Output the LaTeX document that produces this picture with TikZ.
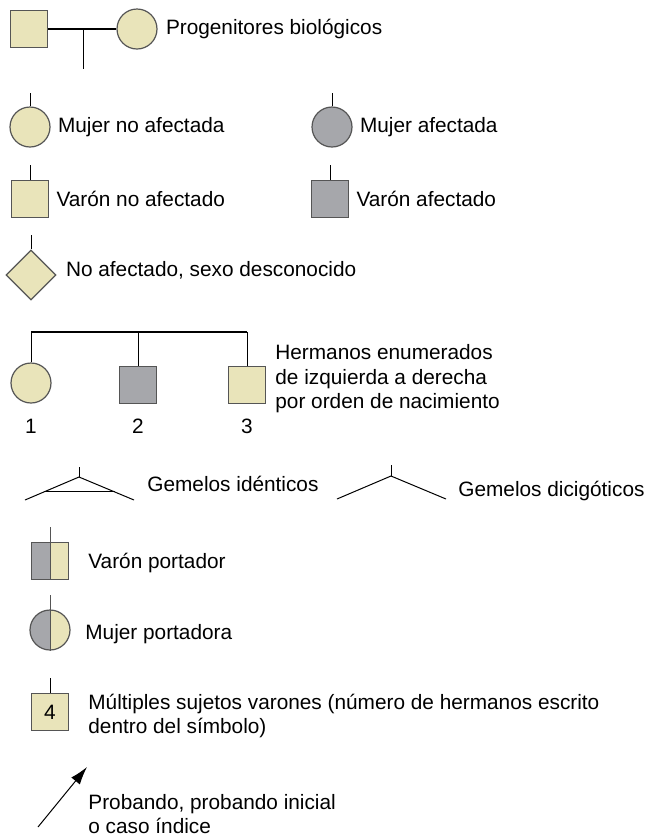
\documentclass[tikz,border=0pt]{standalone}
\usepackage{fontspec}
\setmainfont{Liberation Sans}
\usetikzlibrary{positioning, shapes.geometric, arrows.meta, calc}
\definecolor{beige}{RGB}{233,228,186}
\definecolor{afgris}{RGB}{166,167,171}
\definecolor{borde}{RGB}{85,85,85}

\begin{document}
\begin{tikzpicture}[
	x=0.5pt, y=-0.5pt,
	node distance=3.5pt,
	% --- ESTILOS ---
	varon/.style={
		rectangle, draw=borde, fill=beige, line width=0.6pt,
		minimum size=18.5pt, inner sep=0pt
	},
	mujer/.style={
		circle, draw=borde, fill=beige, line width=0.6pt,
		minimum size=20pt, inner sep=0pt
	},
	desconocido/.style={
		diamond, draw=borde, fill=beige, line width=0.6pt,
		minimum size=25pt, inner sep=0pt
	},
	afectado/.style={fill=afgris},
	portador/.style={
		path picture={\fill[afgris] (path picture bounding box.south west) rectangle (path picture bounding box.north);}
	},
	linea/.style={draw, line width=0.5pt},
	pareja/.style={draw, line width=1pt},
	texto/.style={font=\fontsize{10.4}{12.25}\selectfont, inner sep=0pt, align=left}
	]
	\useasboundingbox (0,0) rectangle (646,836);
	
	% ==========================================
	% 1. Progenitores
	% ==========================================
	\node [varon] (padre) at (29,29) {};
	\node [mujer] (madre) at (137,29) {};
	\draw [pareja] (padre) -- (madre);
	\coordinate (union) at (83,29);
	\coordinate (union_bot) at (83,69);
	\draw [linea] (union) -- (union_bot);
	\node [texto, right=4pt of madre] (t_prog) {Progenitores biológicos};
	
	% ==========================================
	% 2. Afectados / no afectados
	% ==========================================
	\node [mujer] (mna) at (30,127) {};
	\coordinate (mna_top) at (30,93);
	\draw [linea] (mna_top) -- (mna.north);
	\node [texto, right=of mna] (t_mna) {Mujer no afectada};
	
	\node [mujer, afectado] (ma) at (332,127) {};
	\coordinate (ma_top) at (332,93);
	\draw [linea] (ma_top) -- (ma.north);
	\node [texto, right=of ma] (t_ma) {Mujer afectada};
	
	\node [varon] (vna) at (30,199) {};
	\coordinate (vna_top) at (30,165);
	\draw [linea] (vna_top) -- (vna.north);
	\node [texto, right=of vna] (t_vna) {Varón no afectado};
	
	\node [varon, afectado] (va) at (330,199) {};
	\coordinate (va_top) at (330,165);
	\draw [linea] (va_top) -- (va.north);
	\node [texto, right=of va] (t_va) {Varón afectado};
	
	\node [desconocido] (sd) at (31,275) {};
	\coordinate (sd_top) at (31,235);
	\draw [linea] (sd_top) -- (sd.north);
	\node [texto, right=4.5pt of sd, yshift=2.5pt] (t_sd) {No afectado, sexo desconocido};
	
	% ==========================================
	% 3. Hermanos
	% ==========================================
	\coordinate (sib_l) at (31,332);
	\coordinate (sib_r) at (247,332);
	\draw [pareja] (sib_l) -- (sib_r);
	\node [mujer] (h1) at (31,383) {};
	\node [varon, afectado] (h2) at (138,385) {};
	\node [varon] (h3) at (247,385) {};
	\foreach \h in {h1,h2,h3}
		\draw [linea] (\h.north |- sib_l) -- (\h.north);
	\node [texto] (n1) at (31,426) {1};
	\node [texto] (n2) at (138,426) {2};
	\node [texto] (n3) at (247,426) {3};
	\node [texto, anchor=west] (t_herm) at (275,379) {Hermanos enumerados\\de izquierda a derecha\\por orden de nacimiento};
	
	% ==========================================
	% 4. Gemelos
	% ==========================================
	\coordinate (gi_top) at (79,467);
	\coordinate (gi_apex) at (79,477);
	\coordinate (gi_l) at (25,500);
	\coordinate (gi_r) at (134,500);
	\draw [linea] (gi_top) -- (gi_apex);
	\draw [linea] (gi_l) -- (gi_apex) -- (gi_r);
	\draw [linea] ($(gi_apex)!0.65!(gi_l)$) -- ($(gi_apex)!0.65!(gi_r)$);
	\node [texto, anchor=west] (t_gi) at (147,484) {Gemelos idénticos};
	
	\coordinate (gd_top) at (391,465);
	\coordinate (gd_apex) at (391,476);
	\coordinate (gd_l) at (337,499);
	\coordinate (gd_r) at (446,499);
	\draw [linea] (gd_top) -- (gd_apex);
	\draw [linea] (gd_l) -- (gd_apex) -- (gd_r);
	\node [texto, anchor=west] (t_gd) at (458,491) {Gemelos dicigóticos};
	
	% ==========================================
	% 5. Portadores
	% ==========================================
	\node [varon, portador] (vp) at (50,561) {};
	\coordinate (vp_top) at (50,527);
	\draw [linea, borde] (vp_top) -- (vp.south);
	\node [texto, anchor=west] (t_vp) at (88,563) {Varón portador};
	
	\node [mujer, portador] (mp) at (50,630) {};
	\coordinate (mp_top) at (50,595);
	\draw [linea, borde] (mp_top) -- (mp.south);
	\node [texto, anchor=west] (t_mp) at (85,634) {Mujer portadora};
	
	% ==========================================
	% 6. Multiples y probando
	% ==========================================
	\node [varon, font=\fontsize{10.4}{12.25}\selectfont] (mult) at (50,712) {4};
	\coordinate (mult_top) at (50,678);
	\draw [linea] (mult_top) -- (mult.north);
	\node [texto, anchor=west] (t_mult) at (88,716) {Múltiples sujetos varones (número de hermanos escrito\\dentro del símbolo)};
	
	\coordinate (pr_tail) at (38,827);
	\coordinate (pr_head) at (87,767);
	\draw [linea, -{Latex[length=9pt, width=5.5pt]}] (pr_tail) -- (pr_head);
	\node [texto, anchor=west] (t_pr) at (88,814) {Probando, probando inicial\\o caso índice};
\end{tikzpicture}
\end{document}
